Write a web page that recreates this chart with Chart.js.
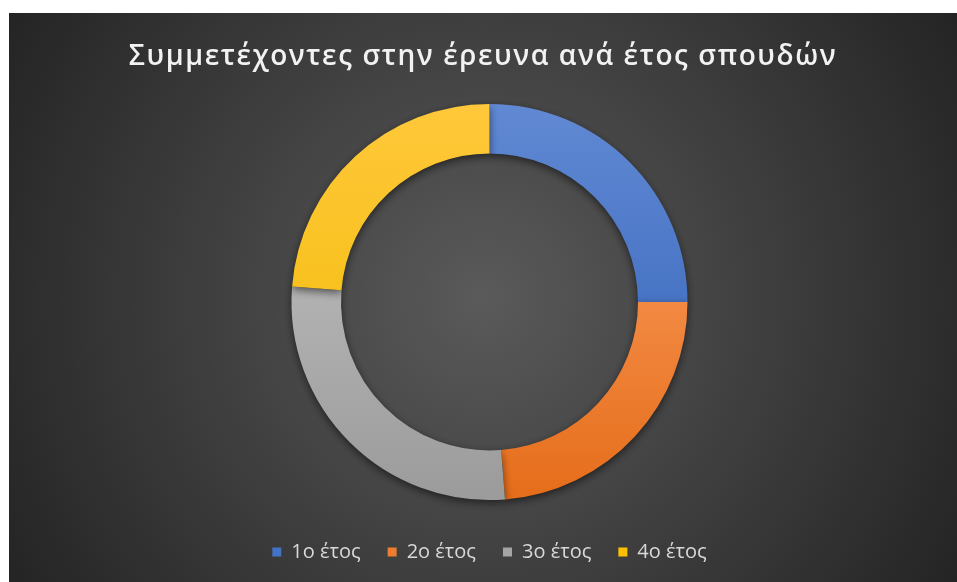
<!DOCTYPE html>
<html>
<head>
<meta charset="utf-8">
<script src="https://cdn.jsdelivr.net/npm/chart.js@4.4.0/dist/chart.umd.min.js"></script>
<style>
  html, body { margin: 0; padding: 0; background: #fff; }
  #wrap { position: relative; width: 957px; height: 582px; }
</style>
</head>
<body>
<div id="wrap"><canvas id="chart"></canvas></div>
<script>
// participants per year of study
const chartTitle = 'Συμμετέχοντες στην έρευνα ανά έτος σπουδών';
const years = ['1ο έτος', '2ο έτος', '3ο έτος', '4ο έτος'];
const participants = [20, 19, 22, 19];

// base colour (legend) and light/dark ends of the slice gradient
const baseColors = ['#4472c4', '#ed7d31', '#a5a5a5', '#ffc000'];
const lightColors = ['#6189d3', '#ffa56a', '#c6c6c6', '#ffc83a'];
const darkColors = ['#2f5fb7', '#e56d1a', '#9b9b9b', '#f0ba00'];

// dark radial backdrop, the white strip at top/left stays as page colour
const backdrop = {
  id: 'backdrop',
  beforeDraw(chart) {
    const ctx = chart.ctx;
    const x0 = 9, y0 = 13, w = chart.width - x0, h = chart.height - y0;
    const cx = x0 + w / 2, cy = y0 + h / 2;
    const g = ctx.createRadialGradient(cx, cy, 0, cx, cy, Math.hypot(w / 2, h / 2));
    g.addColorStop(0, '#5a5a5a');
    g.addColorStop(1, '#242424');
    ctx.save();
    ctx.fillStyle = '#ffffff';
    ctx.fillRect(0, 0, chart.width, chart.height);
    ctx.fillStyle = g;
    ctx.fillRect(x0, y0, w, h);
    ctx.restore();
  }
};

// spaced-out heading
const spacedTitle = {
  id: 'spacedTitle',
  afterDraw(chart) {
    const ctx = chart.ctx;
    ctx.save();
    ctx.font = '600 28px "Open Sans"';
    ctx.letterSpacing = '1.6px';
    ctx.fillStyle = '#f2f2f2';
    ctx.textAlign = 'center';
    ctx.textBaseline = 'middle';
    ctx.fillText(chartTitle, 483, 57);
    ctx.restore();
  }
};

// soft shadow under the ring
const ringShadow = {
  id: 'ringShadow',
  beforeDatasetsDraw(chart) {
    const ctx = chart.ctx;
    ctx.save();
    ctx.shadowColor = 'rgba(0, 0, 0, 0.55)';
    ctx.shadowBlur = 9;
    ctx.shadowOffsetY = 3;
  },
  afterDatasetsDraw(chart) {
    chart.ctx.restore();
  }
};

function sliceFill(context) {
  const chart = context.chart;
  const area = chart.chartArea;
  if (!area) return baseColors[context.dataIndex];
  const cy = (area.top + area.bottom) / 2;
  const g = chart.ctx.createLinearGradient(0, cy - 198, 0, cy + 198);
  g.addColorStop(0, lightColors[context.dataIndex]);
  g.addColorStop(1, darkColors[context.dataIndex]);
  return g;
}

new Chart(document.getElementById('chart'), {
  type: 'doughnut',
  data: {
    labels: years,
    datasets: [{
      data: participants,
      backgroundColor: sliceFill,
      borderWidth: 0,
      radius: 198,
      cutout: '75%'
    }]
  },
  options: {
    responsive: true,
    maintainAspectRatio: false,
    animation: false,
    layout: { padding: { top: 89, left: 22, right: 0, bottom: 10 } },
    plugins: {
      title: { display: false },
      tooltip: { enabled: false },
      legend: {
        position: 'bottom',
        labels: {
          color: '#d9d9d9',
          font: { family: '"Open Sans"', size: 20 },
          boxWidth: 9,
          boxHeight: 9,
          padding: 27,
          generateLabels: (chart) => years.map((label, i) => ({
            text: label,
            fillStyle: baseColors[i],
            strokeStyle: baseColors[i],
            lineWidth: 0,
            fontColor: '#d9d9d9',
            index: i
          }))
        }
      }
    }
  },
  plugins: [backdrop, ringShadow, spacedTitle]
});
</script>
</body>
</html>
